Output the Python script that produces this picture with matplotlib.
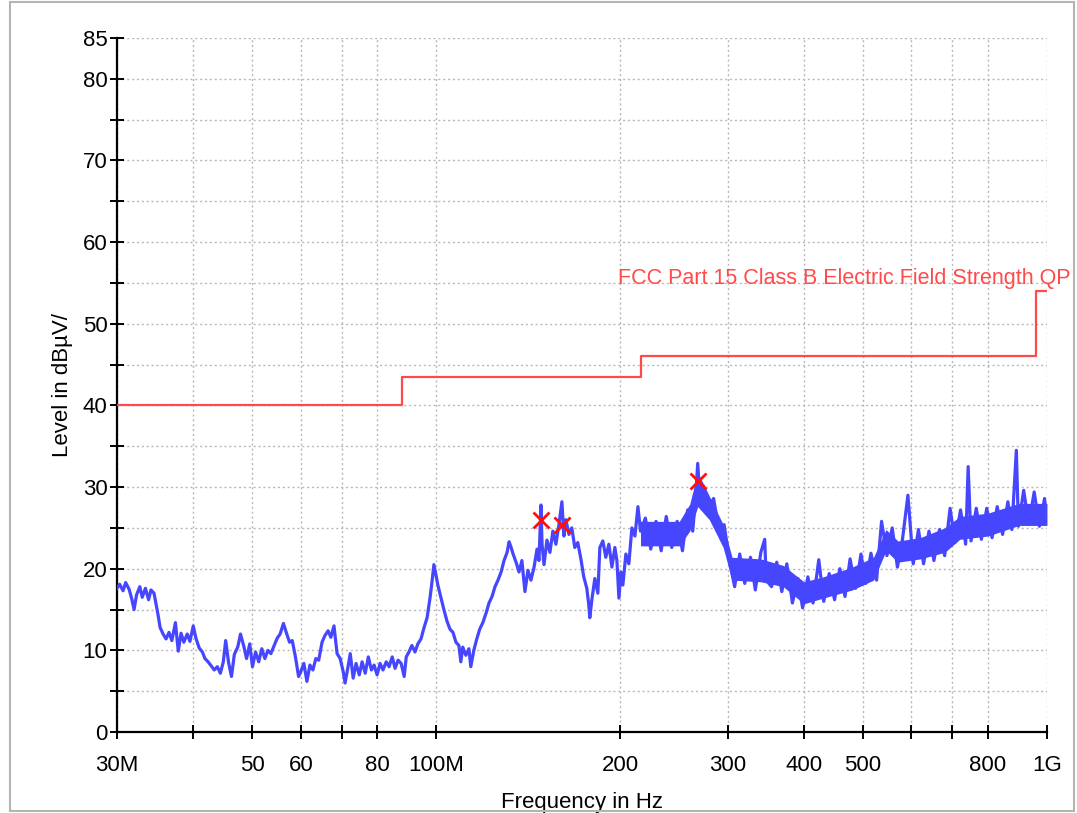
"""EMI scan: level vs frequency with FCC Part 15 Class B limit."""

import matplotlib
matplotlib.use("Agg")
import matplotlib.pyplot as plt
from matplotlib.patches import Rectangle

plt.rcParams["font.family"] = ["Liberation Sans", "DejaVu Sans"]

trace_mhz = [
    30.0, 30.3, 30.7, 31.0, 31.4, 31.7, 32.0, 32.3, 32.7, 33.0, 33.4, 33.8, 34.1, 34.5,
    35.0, 35.3, 35.7, 36.1, 36.5, 36.9, 37.4, 37.8, 38.2, 38.6, 39.1, 39.5, 40.0, 40.4,
    40.9, 41.4, 41.8, 42.3, 42.8, 43.3, 43.8, 44.3, 44.8, 45.2, 45.7, 46.2, 46.7, 47.3,
    47.8, 48.4, 48.9, 49.5, 50.0, 50.6, 51.2, 51.8, 52.4, 53.0, 53.6, 54.2, 54.9, 55.5,
    56.2, 56.8, 57.5, 58.1, 58.8, 59.5, 60.0, 60.7, 61.4, 62.1, 62.8, 63.5, 64.2, 65.0,
    65.7, 66.5, 67.2, 68.0, 68.8, 69.6, 70.4, 70.9, 71.7, 72.3, 73.1, 73.9, 74.8, 75.6,
    76.5, 77.4, 78.3, 79.1, 80.0, 80.9, 81.8, 82.8, 83.7, 84.7, 85.6, 86.6, 87.6, 88.6,
    89.3, 90.2, 91.2, 92.3, 93.3, 94.4, 95.5, 96.6, 97.7, 98.4, 99.1, 99.9, 100.6, 101.8,
    102.9, 104.1, 105.3, 106.5, 107.7, 108.9, 109.7, 110.5, 111.8, 113.1, 113.9, 115.2,
    116.5, 117.8, 119.2, 120.7, 122.0, 123.4, 124.8, 126.2, 127.7, 129.1, 130.6, 131.6,
    132.6, 133.6, 135.1, 136.6, 138.1, 139.7, 141.3, 142.9, 144.6, 146.2, 147.3, 148.4,
    149.0, 150.1, 151.8, 153.5, 155.2, 157.0, 158.8, 160.6, 161.8, 163.0, 164.9, 166.7,
    168.6, 170.5, 172.5, 174.4, 176.4, 177.7, 178.4, 179.8, 181.8, 183.9, 185.3, 187.4,
    189.5, 191.7, 193.9, 196.1, 197.6, 199.1, 200.6, 202.1, 204.4, 206.7, 209.1, 211.5,
    213.9, 216.0, 220.0, 224.5, 229.0, 233.5, 238.0, 243.0, 248.0, 253.0, 258.0, 263.0,
    266.0, 268.0, 270.0, 273.5, 279.0, 284.5, 290.0, 296.0, 302.0, 308.0, 314.0, 320.0,
    327.0, 333.0, 340.0, 345.0, 347.0, 354.0, 361.0, 368.0, 375.0, 383.0, 391.0, 398.0,
    406.0, 414.0, 423.0, 431.0, 440.0, 449.0, 458.0, 467.0, 476.0, 486.0, 496.0, 505.0,
    515.0, 526.0, 536.0, 547.0, 558.0, 569.0, 580.0, 592.0, 604.0, 616.0, 628.0, 641.0,
    653.0, 667.0, 680.0, 694.0, 707.0, 722.0, 736.0, 743.0, 751.0, 766.0, 781.0, 797.0,
    813.0, 829.0, 846.0, 863.0, 876.0, 891.0, 898.0, 916.0, 934.0, 953.0, 972.0, 991.0,
    1000.0,
]
trace_db = [
    17.6, 18.1, 17.3, 18.3, 17.5, 16.4, 15.0, 16.8, 17.8, 16.5, 17.6, 16.2, 17.4, 17.0,
    14.5, 12.8, 12.0, 11.4, 12.2, 11.2, 13.4, 9.9, 12.1, 11.0, 12.0, 11.1, 13.0, 11.5,
    10.3, 9.8, 9.0, 8.6, 8.1, 7.6, 8.0, 7.2, 8.6, 11.2, 8.5, 6.8, 9.5, 10.4,
    12.0, 10.5, 9.0, 10.8, 8.0, 9.8, 8.6, 10.2, 9.0, 10.0, 9.6, 10.5, 11.5, 12.0,
    13.3, 12.2, 11.0, 11.2, 9.2, 6.8, 7.4, 8.4, 6.2, 8.2, 7.6, 9.0, 8.8, 11.0,
    11.8, 12.4, 11.6, 13.0, 9.6, 9.0, 7.4, 6.0, 8.0, 9.6, 6.6, 8.4, 7.0, 8.6,
    7.2, 9.2, 7.6, 8.2, 7.0, 8.4, 7.6, 8.6, 8.0, 9.2, 7.8, 8.8, 8.4, 6.8,
    9.2, 9.8, 10.6, 9.8, 10.8, 11.4, 12.8, 14.0, 16.5, 18.4, 20.5, 19.2, 18.0, 16.4,
    15.0, 13.6, 12.6, 12.2, 11.0, 10.6, 8.6, 10.4, 9.4, 10.2, 8.0, 10.0,
    11.4, 12.6, 13.4, 14.6, 15.8, 16.6, 17.8, 18.6, 19.6, 21.0, 22.0, 23.3,
    22.6, 21.8, 20.8, 19.6, 21.0, 17.2, 19.8, 18.6, 20.2, 22.4, 21.0, 27.8,
    23.0, 20.5, 23.5, 22.0, 24.6, 23.0, 25.4, 28.2, 24.0, 26.0, 24.2, 25.0,
    22.6, 23.2, 21.2, 19.0, 17.6, 15.6, 14.0, 16.2, 18.8, 17.0, 22.6, 23.4,
    21.4, 23.0, 20.2, 22.6, 21.0, 16.4, 19.6, 18.0, 21.8, 20.6, 25.0, 24.0,
    27.6, 24.6, 26.2, 22.4, 25.8, 22.2, 26.4, 22.6, 25.8, 22.2, 27.2, 24.6,
    29.0, 32.9, 29.0, 30.2, 27.4, 28.6, 25.0, 25.4, 21.0, 17.8, 21.8, 18.2,
    21.4, 17.4, 22.0, 23.6, 18.6, 17.8, 20.8, 17.2, 20.6, 15.8, 18.8, 15.2,
    19.0, 15.8, 21.1, 16.0, 19.4, 16.2, 20.0, 16.6, 21.2, 17.6, 21.8, 18.2,
    21.9, 18.6, 25.8, 21.6, 25.0, 20.2, 23.6, 29.0, 20.6, 24.8, 20.6, 24.6,
    21.0, 24.8, 21.6, 27.4, 23.2, 27.2, 23.0, 32.5, 23.4, 27.4, 23.6, 27.4,
    23.8, 27.6, 24.2, 28.2, 24.8, 34.5, 25.2, 29.6, 25.4, 29.4, 25.2, 28.6,
    25.6,
]

# dense noise band above 216 MHz (core envelope)
band_mhz = [216, 250, 260, 268, 280, 295, 305, 340, 370, 400, 430, 480, 520, 545,
            570, 620, 680, 720, 800, 900, 1000]
band_lo = [22.8, 22.8, 24.6, 27.6, 26.0, 22.6, 18.6, 18.4, 17.8, 15.7, 16.4, 17.4, 18.6,
           22.2, 20.8, 21.2, 22.0, 23.6, 24.0, 25.3, 25.3]
band_hi = [25.8, 25.8, 27.9, 31.8, 28.9, 25.4, 21.4, 21.2, 20.4, 18.4, 19.0, 20.2, 21.4,
           24.8, 23.4, 23.8, 25.0, 26.4, 26.8, 28.0, 28.0]

# FCC Part 15 Class B limit (step line)
limit_mhz = [30, 88, 88, 216, 216, 960, 960, 1000]
limit_db = [40, 40, 43.5, 43.5, 46, 46, 54, 54]

# final measurement markers
peak_mhz = [148.4, 160.6, 268.0]
peak_db = [26.0, 25.4, 30.7]

xtick_mhz = [30, 40, 50, 60, 70, 80, 100, 200, 300, 400, 500, 600, 700, 800, 1000]
xtick_labels = ["30M", "", "50", "60", "", "80", "100M", "200", "300", "400", "500",
                "", "", "800", "1G"]
ytick_db = list(range(0, 86, 5))
ytick_labels = [str(v) if (v % 10 == 0 or v == 85) else "" for v in ytick_db]

BLUE = "#4646ff"
RED = "#ff4a4a"

fig = plt.figure(figsize=(10.77, 8.13), dpi=100)
fig.patches.append(Rectangle((0.009, 0.002), 0.988, 0.996, transform=fig.transFigure,
                             fill=False, edgecolor="#b4b4b4", linewidth=1.5))
ax = fig.add_axes([0.1086, 0.0996, 0.8635, 0.8537])

ax.fill_between(band_mhz, band_lo, band_hi, color=BLUE, linewidth=0, zorder=2)
ax.plot(trace_mhz, trace_db, color=BLUE, linewidth=2.3, zorder=3)
ax.plot(limit_mhz, limit_db, color=RED, linewidth=1.6, zorder=4)
ax.plot(peak_mhz, peak_db, linestyle="none", marker="x", color="#ff1010",
        markersize=11, markeredgewidth=2, zorder=5)
ax.text(198.4, 55.6, "FCC Part 15 Class B Electric Field Strength QP", color=RED,
        fontsize=15.5, ha="left", va="center", clip_on=False)

ax.set_xscale("log")
ax.set_xlim(30, 1000)
ax.set_ylim(0, 85)
ax.set_xticks(xtick_mhz)
ax.set_xticklabels(xtick_labels)
ax.minorticks_off()
ax.set_yticks(ytick_db)
ax.set_yticklabels(ytick_labels)
ax.tick_params(axis="both", direction="inout", length=9.5, width=1.4, labelsize=16)
ax.tick_params(axis="x", pad=12)
ax.tick_params(axis="y", pad=2)

for side in ("top", "right"):
    ax.spines[side].set_visible(False)
for side in ("left", "bottom"):
    ax.spines[side].set_linewidth(1.6)

ax.grid(True, color="#b8b8b8", linestyle=(0, (1.5, 2)), linewidth=1)
ax.set_axisbelow(True)

ax.set_xlabel("Frequency in Hz", fontsize=16, labelpad=11)
ax.set_ylabel("Level in dBµV/", fontsize=16, labelpad=7)

fig.savefig("out.png", dpi=100)
